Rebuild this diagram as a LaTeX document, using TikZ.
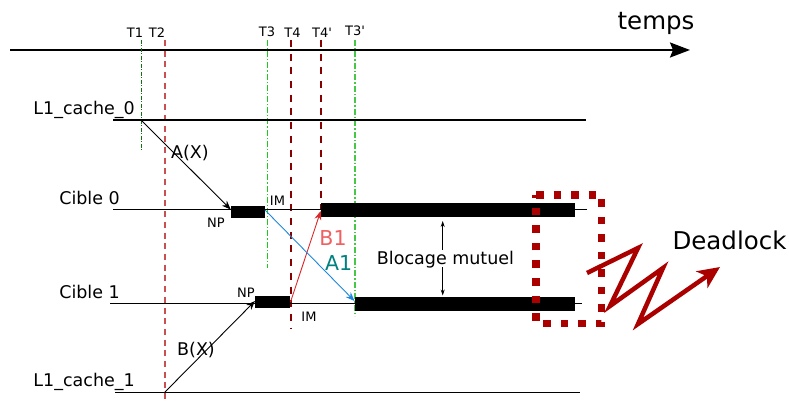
\documentclass[tikz,border=0pt]{standalone}
\usepackage{fontspec}
\setmainfont{DejaVu Sans}
\usetikzlibrary{arrows.meta}
\definecolor{dkred}{RGB}{136,0,0}
\definecolor{indred}{RGB}{200,80,80}
\definecolor{dkgreen}{RGB}{20,110,20}
\definecolor{ltgreen}{RGB}{30,200,30}
\definecolor{brgreen}{RGB}{70,200,70}
\definecolor{boxred}{RGB}{170,0,0}
\definecolor{arrblue}{RGB}{30,136,220}
\definecolor{bred}{RGB}{220,40,40}
\definecolor{blabel}{RGB}{240,96,96}
\definecolor{alabel}{RGB}{0,128,128}
\tikzset{
  lbl/.style={inner sep=0pt, anchor=base, font=\fontsize{17.5}{20}\selectfont},
  tlbl/.style={inner sep=0pt, anchor=base, font=\fontsize{13}{15}\selectfont},
  big/.style={inner sep=0pt, anchor=base, font=\fontsize{24.5}{28}\selectfont},
  mid/.style={inner sep=0pt, anchor=base, font=\fontsize{20.5}{24}\selectfont},
  track/.style={line width=1.2pt, black},
  blk/.style={fill=black, draw=none},
  msg/.style={line width=0.9pt, -{Stealth[length=9pt,width=7pt]}},
  vT1/.style={dkgreen, line width=1.3pt, dash pattern=on 4pt off 1.5pt on 1pt off 1.5pt},
  vT2/.style={indred, line width=1.6pt, dash pattern=on 6pt off 4.7pt},
  vT3/.style={ltgreen, line width=1.3pt, dash pattern=on 6pt off 2pt on 1.2pt off 2pt},
  vT4/.style={dkred, line width=2.2pt, dash pattern=on 7pt off 6.7pt},
  vT3b/.style={brgreen, line width=1.6pt, dash pattern=on 6pt off 2pt on 1.5pt off 2pt},
}
\begin{document}
\begin{tikzpicture}[x=1pt,y=-1pt]
\useasboundingbox (0,0) rectangle (789,403);
% time axis
\coordinate (ax0) at (10,50);
\coordinate (ax1) at (690,50);
\draw[line width=2pt, -{Stealth[length=20pt,width=15pt,inset=3pt]}] (ax0) -- (ax1);
\node[big] (temps) at (656,30) {temps};
% tick labels
\node[tlbl] (t1) at (135,37.5) {T1};
\node[tlbl] (t2) at (157,37.5) {T2};
\node[tlbl] (t3) at (267,36.5) {T3};
\node[tlbl] (t4) at (292.5,38) {T4};
\node[tlbl] (t4b) at (322,38) {T4\textquotesingle};
\node[tlbl] (t3b) at (355,36) {T3\textquotesingle};
% vertical time lines
\coordinate (v1a) at (141.3,40); \coordinate (v1b) at (141.3,150);
\coordinate (v2a) at (165,40);   \coordinate (v2b) at (165,403);
\coordinate (v3a) at (267.3,40); \coordinate (v3b) at (267.3,268);
\coordinate (v4a) at (291,40);   \coordinate (v4b) at (291,328);
\coordinate (v5a) at (320.7,40); \coordinate (v5b) at (320.7,210);
\coordinate (v6a) at (355,40);   \coordinate (v6b) at (355,316);
\draw[vT1] (v1a) -- (v1b);
\draw[vT2] (v2a) -- (v2b);
\draw[vT3] (v3a) -- (v3b);
\draw[vT4] (v4a) -- (v4b);
\draw[vT4] (v5a) -- (v5b);
\draw[vT3b] (v6a) -- (v6b);
% tracks
\coordinate (c0a) at (113,120);   \coordinate (c0b) at (586,120);
\coordinate (g0a) at (113,209.5); \coordinate (g0b) at (587,209.5);
\coordinate (g1a) at (110,303.3); \coordinate (g1b) at (582,303.3);
\coordinate (c1a) at (115,392.3); \coordinate (c1b) at (580,392.3);
\draw[track] (c0a) -- (c0b);
\draw[track] (g0a) -- (g0b);
\draw[track] (g1a) -- (g1b);
\draw[track] (c1a) -- (c1b);
\node[lbl, anchor=base east] (lc0) at (135,115) {L1\_cache\_0};
\node[lbl, anchor=base east] (lg0) at (120,205) {Cible 0};
\node[lbl, anchor=base east] (lg1) at (120,298.3) {Cible 1};
\node[lbl, anchor=base east] (lc1) at (135,386) {L1\_cache\_1};
% blocks
\path[blk] (230.7,206) rectangle (265,218.3);
\path[blk] (320.7,203) rectangle (575,217.5);
\path[blk] (255,296) rectangle (290,308.3);
\path[blk] (355,296.7) rectangle (575,310.8);
\coordinate (np0) at (230.7,209.5);
\coordinate (np1) at (255,301);
\coordinate (im0) at (265,210);
\coordinate (im1) at (290.5,302);
\coordinate (lb0) at (320.7,211);
\coordinate (lb1) at (354.5,301);
\coordinate (s0) at (141.5,120.5);
\coordinate (s1) at (165,392);
% messages
\draw[msg, black] (s0) -- (np0);
\draw[msg, black] (s1) -- (np1);
\draw[msg, bred] (im1) -- (lb0);
\draw[msg, arrblue] (im0) -- (lb1);
\node[lbl] (ax) at (190,158.3) {A(X)};
\node[lbl] (bx) at (196,355) {B(X)};
\node[mid, text=blabel] (b1) at (333,245.7) {B1};
\node[mid, text=alabel] (a1) at (338.7,270) {A1};
\node[tlbl] (npa) at (216,227.7) {NP};
\node[tlbl] (npb) at (246,297.3) {NP};
\node[tlbl] (ima) at (277.5,206) {IM};
\node[tlbl] (imb) at (309,321) {IM};
% blocage mutuel
\node[lbl] (bm) at (445.5,265) {Blocage mutuel};
\coordinate (bu0) at (442.7,250); \coordinate (bu1) at (442.7,221);
\coordinate (bd0) at (442.7,267); \coordinate (bd1) at (442.7,295.5);
\draw[line width=0.8pt, -{Stealth[length=6pt,width=4pt]}] (bu0) -- (bu1);
\draw[line width=0.8pt, -{Stealth[length=6pt,width=4pt]}] (bd0) -- (bd1);
% dotted deadlock box
\coordinate (dbA) at (536,195);
\coordinate (dbB) at (601.7,323.3);
\draw[boxred, line width=7.3pt, dash pattern=on 7.5pt off 10pt] (dbA) -| (dbB) -| cycle;
% zigzag arrow
\coordinate (z0) at (587,273);
\coordinate (z1) at (638,248);
\coordinate (z2) at (610,306);
\coordinate (z3) at (663,268);
\coordinate (z4) at (638,324);
\coordinate (z5) at (720,267);
\draw[boxred, line width=4.5pt, line join=miter, -{Stealth[length=22pt,width=20pt,inset=6pt]}] (z0) -- (z1) -- (z2) -- (z3) -- (z4) -- (z5);
\node[big] (dl) at (729.5,250) {Deadlock};
\end{tikzpicture}
\end{document}
